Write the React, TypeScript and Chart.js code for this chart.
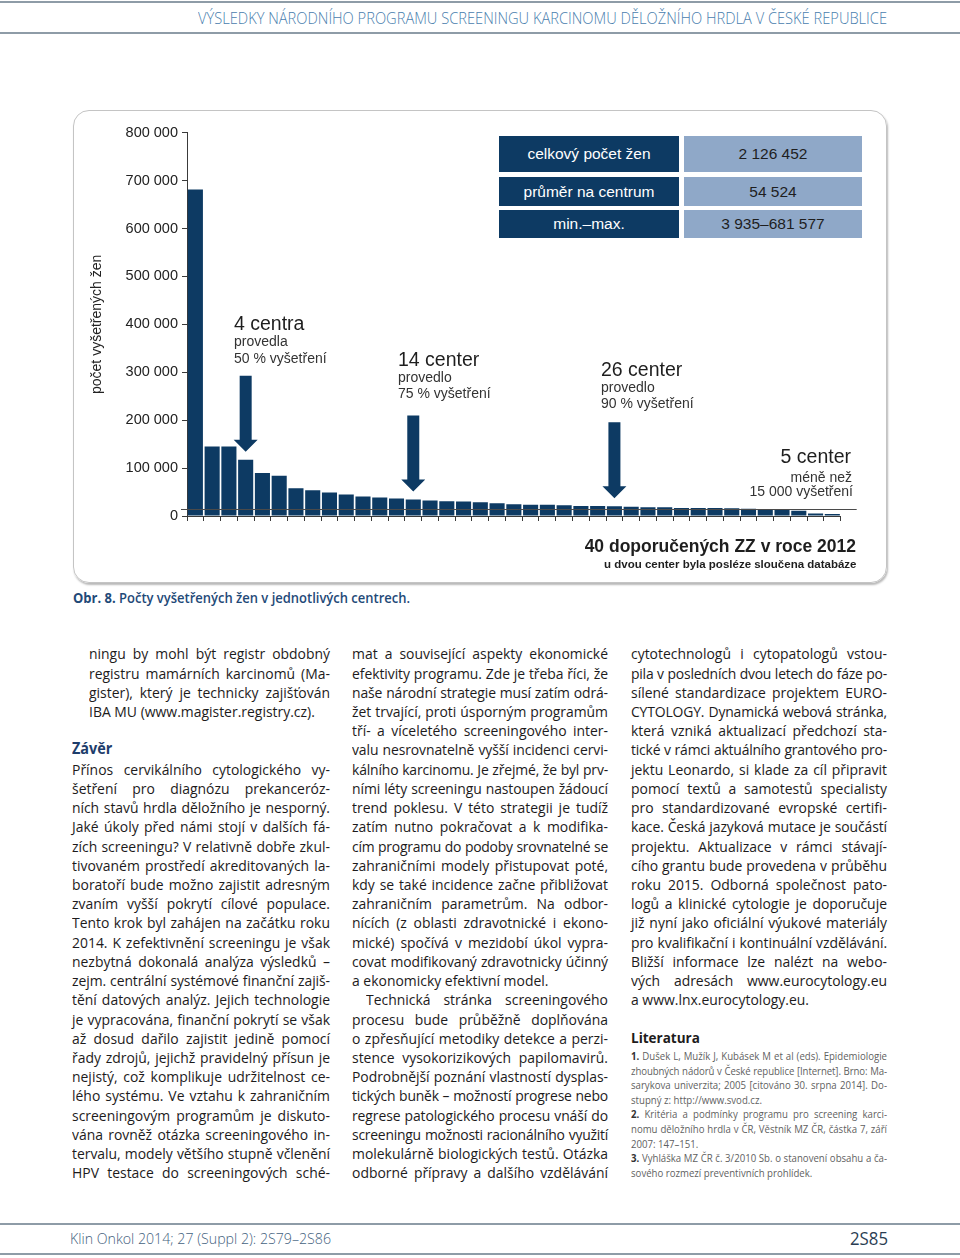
import React, { useEffect, useRef } from 'react';
import { Chart, registerables } from 'chart.js';

Chart.register(...registerables);

// ---------------- chart data ----------------
const centerLabels = ['1', '2', '3', '4', '5', '6', '7', '8', '9', '10', '11', '12', '13', '14', '15', '16', '17', '18', '19', '20',
  '21', '22', '23', '24', '25', '26', '27', '28', '29', '30', '31', '32', '33', '34', '35', '36', '37', '38', '39'];
const examinedWomen = [681577, 145300, 145300, 117400, 89500, 83900, 58100, 53900, 48800, 44700,
  40500, 38400, 36300, 34200, 32100, 30800, 30500, 28700, 26600, 24500,
  23700, 23700, 22400, 21000, 21000, 20300, 19500, 18200, 18200, 16800,
  16800, 16500, 16200, 15300, 14700, 12600, 11100, 5000, 3935];
const yTickValues = [0, 100000, 200000, 300000, 400000, 500000, 600000, 700000, 800000];
const arrowBars = [3, 13, 25];
const smallCenterLimit = 15000;
const summaryLabels = ['celkový počet žen', 'průměr na centrum', 'min.–max.'];
const summaryValues = ['2 126 452', '54 524', '3 935–681 577'];
const yAxisTitle = 'počet vyšetřených žen';

// ---------------- page text ----------------
const headerText = 'VÝSLEDKY NÁRODNÍHO PROGRAMU SCREENINGU KARCINOMU DĚLOŽNÍHO HRDLA V ČESKÉ REPUBLICE';
const footerText = 'Klin Onkol 2014; 27 (Suppl 2): 2S79–2S86';
const pageNumber = '2S85';
const captionBold = 'Obr. 8.';
const captionText = ' Počty vyšetřených žen v jednotlivých centrech.';

const col1Intro = [
  'ningu by mohl být registr obdobný',
  'registru mamárních karcinomů (Ma-',
  'gister), který je technicky zajišťován',
  'IBA MU (www.magister.registry.cz).',
];
const col1Body = [
  'Přínos cervikálního cytologického vy-',
  'šetření pro diagnózu prekanceróz-',
  'ních  stavů hrdla děložního je nesporný.',
  'Jaké úkoly před námi stojí v dalších fá-',
  'zích screeningu? V relativně dobře zkul-',
  'tivovaném prostředí akreditovaných la-',
  'boratoří bude možno zajistit adresným',
  'zvaním vyšší pokrytí cílové populace.',
  'Tento krok byl zahájen na začátku roku',
  '2014. K zefektivnění screeningu je však',
  'nezbytná dokonalá analýza výsledků –',
  'zejm. centrální systémové finanční zajiš-',
  'tění datových analýz. Jejich technologie',
  'je vypracována, finanční pokrytí se však',
  'až dosud dařilo zajistit jedině pomocí',
  'řady zdrojů, jejichž pravidelný přísun je',
  'nejistý, což komplikuje udržitelnost ce-',
  'lého systému. Ve vztahu k zahraničním',
  'screeningovým programům je diskuto-',
  'vána rovněž otázka screeningového in-',
  'tervalu, modely většího stupně včlenění',
  'HPV testace do screeningových sché-',
];
const col2Body = [
  'mat a související aspekty ekonomické',
  'efektivity programu. Zde je třeba říci, že',
  'naše národní strategie musí zatím odrá-',
  'žet trvající, proti úsporným programům',
  'tří- a víceletého screeningového inter-',
  'valu nesrovnatelně vyšší incidenci cervi-',
  'kálního karcinomu. Je zřejmé, že byl prv-',
  'ními léty screeningu nastoupen žádoucí',
  'trend poklesu. V této strategii je tudíž',
  'zatím nutno pokračovat a k modifika-',
  'cím programu do podoby srovnatelné se',
  'zahraničními modely přistupovat poté,',
  'kdy se také incidence začne přibližovat',
  'zahraničním parametrům. Na odbor-',
  'nících (z oblasti zdravotnické i ekono-',
  'mické) spočívá v mezidobí úkol vypra-',
  'covat modifikovaný zdravotnicky účinný',
  'a ekonomicky efektivní model.',
];
const col2Tech = [
  'Technická stránka screeningového',
  'procesu bude průběžně doplňována',
  'o zpřesňující metodiky detekce a perzi-',
  'stence vysokorizikových papilomavirů.',
  'Podrobnější poznání vlastností dysplas-',
  'tických buněk – možností progrese nebo',
  'regrese patologického procesu vnáší do',
  'screeningu možnosti racionálního využití',
  'molekulárně biologických testů. Otázka',
  'odborné přípravy a dalšího vzdělávání',
];
const col3Body = [
  'cytotechnologů i cytopatologů vstou-',
  'pila v posledních dvou letech do fáze po-',
  'sílené standardizace projektem EURO-',
  'CYTOLOGY. Dynamická webová stránka,',
  'která vzniká aktualizací předchozí sta-',
  'tické v rámci aktuálního grantového pro-',
  'jektu Leonardo, si klade za cíl připravit',
  'pomocí textů a samotestů specialisty',
  'pro standardizované evropské certifi-',
  'kace. Česká jazyková mutace je součástí',
  'projektu. Aktualizace v rámci stávají-',
  'cího grantu bude provedena v průběhu',
  'roku 2015. Odborná společnost pato-',
  'logů a klinické cytologie je doporučuje',
  'již nyní jako oficiální výukové materiály',
  'pro kvalifikační i kontinuální vzdělávání.',
  'Bližší informace lze nalézt na webo-',
  'vých adresách www.eurocytology.eu',
  'a www.lnx.eurocytology.eu.',
];
const refNumbers = ['1.', '2.', '3.'];
const refLines = [
  ['Dušek L, Mužík J, Kubásek M et al (eds). Epidemiologie', 'zhoubných nádorů v České republice [Internet]. Brno: Ma-', 'sarykova univerzita; 2005 [citováno 30. srpna 2014]. Do-', 'stupný z: http://www.svod.cz.'],
  ['Kritéria a podmínky programu pro screening karci-', 'nomu děložního hrdla v ČR, Věstník MZ ČR, částka 7, září', '2007: 147–151.'],
  ['Vyhláška MZ ČR č. 3/2010 Sb. o stanovení obsahu a ča-', 'sového rozmezí preventivních prohlídek.'],
];

// ---------------- styles ----------------
const NAVY = '#0d3a63';
const LIGHT = '#8fa8c8';
const AXIS = '#3a3a3a';
const TEXT = '#1d1b1c';
const SANS = '"Liberation Sans", Arial, sans-serif';
const BODY_SIZE = 15;
const BODY_FONT = `${BODY_SIZE}px "Open Sans"`;
const LH = 19.22;
const REF_SIZE = 11;
const REF_FONT = `${REF_SIZE}px "Open Sans"`;
const REF_LH = 14.6;

let measureCtx: CanvasRenderingContext2D | null = null;
function measure(text: string, font: string): number {
  if (!measureCtx) measureCtx = document.createElement('canvas').getContext('2d');
  measureCtx!.font = font;
  return measureCtx!.measureText(text).width;
}

function openTop(cy: number, size: number, lh: number) {
  const baseline = cy + 0.32 * size;
  return baseline - (lh - 1.362 * size) / 2 - 1.069 * size;
}

function fmt(v: number) {
  return String(v).replace(/\B(?=(\d{3})+(?!\d))/g, ' ');
}

const overlayPlugin = {
  id: 'overlay',
  afterDatasetsDraw(chart: any) {
    const { ctx, scales, chartArea } = chart;
    const x = scales.x;
    const y = scales.y;
    ctx.save();
    const ly = Math.round(y.getPixelForValue(smallCenterLimit)) + 0.5;
    ctx.strokeStyle = '#4a4a4a';
    ctx.lineWidth = 1;
    ctx.beginPath();
    ctx.moveTo(chartArea.left - 6, ly);
    ctx.lineTo(chartArea.right + 16, ly);
    ctx.stroke();
    ctx.fillStyle = NAVY;
    arrowBars.forEach((i) => {
      const cx = x.getPixelForValue(i);
      const tip = y.getPixelForValue(examinedWomen[i]) - 8;
      const top = tip - 76;
      const headH = 12;
      ctx.beginPath();
      ctx.moveTo(cx - 6, top);
      ctx.lineTo(cx + 6, top);
      ctx.lineTo(cx + 6, tip - headH);
      ctx.lineTo(cx + 12, tip - headH);
      ctx.lineTo(cx, tip);
      ctx.lineTo(cx - 12, tip - headH);
      ctx.lineTo(cx - 6, tip - headH);
      ctx.closePath();
      ctx.fill();
    });
    ctx.restore();
  },
};

function ScreeningChart() {
  const ref = useRef<HTMLCanvasElement>(null);
  useEffect(() => {
    const chart = new Chart(ref.current!, {
      type: 'bar',
      data: {
        labels: centerLabels,
        datasets: [{
          data: examinedWomen,
          backgroundColor: NAVY,
          borderWidth: 0,
          barPercentage: 0.9,
          categoryPercentage: 1,
        }],
      },
      options: {
        animation: false,
        responsive: false,
        maintainAspectRatio: false,
        layout: { padding: { left: 0, top: 22.7, right: 46.3, bottom: 57 } },
        plugins: { legend: { display: false }, tooltip: { enabled: false } },
        scales: {
          x: {
            type: 'category',
            offset: true,
            grid: { offset: true, drawOnChartArea: false, drawTicks: true, tickLength: 5, color: AXIS },
            border: { display: true, color: AXIS, width: 1 },
            ticks: { display: false, autoSkip: false },
            afterFit: (s: any) => { s.height = 10; },
          },
          y: {
            min: 0,
            max: 800000,
            afterBuildTicks: (s: any) => { s.ticks = yTickValues.map((v) => ({ value: v })); },
            ticks: {
              callback: (v: any) => fmt(Number(v)),
              font: { family: SANS, size: 14.5 },
              color: '#222',
              padding: 4,
            },
            grid: { drawOnChartArea: false, drawTicks: true, tickLength: 5, color: AXIS },
            border: { display: true, color: AXIS, width: 1 },
            title: {
              display: true,
              text: yAxisTitle,
              font: { family: SANS, size: 14 },
              color: '#222',
              padding: { top: 16, bottom: 0 },
            },
            afterFit: (s: any) => { s.width = 114; },
          },
        },
      } as any,
      plugins: [overlayPlugin],
    });
    return () => chart.destroy();
  }, []);
  return (
    <canvas ref={ref} width={814} height={473}
      style={{ position: 'absolute', left: 73, top: 110, width: 814, height: 473 }} />
  );
}

function Label(props: { text: string; x: number; baseline: number; size: number; weight?: number; color?: string; align?: 'left' | 'right' }) {
  const { text, x, baseline, size, weight = 400, color = '#1e1e1e', align = 'left' } = props;
  const lh = size * 1.2;
  const top = baseline - (lh - 1.117 * size) / 2 - 0.905 * size;
  const style: any = {
    position: 'absolute', top, font: `${weight} ${size}px ${SANS}`, lineHeight: lh + 'px', color, whiteSpace: 'nowrap',
  };
  if (align === 'right') style.right = 960 - x; else style.left = x;
  return <div style={style}>{text}</div>;
}

function FitText(props: { text: string; x: number; cy: number; width: number; size: number; weight?: number; color: string }) {
  const { text, x, cy, width, size, weight = 400, color } = props;
  const font = `${weight} ${size}px "Open Sans"`;
  const s = width / measure(text, font);
  const lh = size * 1.3;
  return (
    <div style={{ position: 'absolute', left: x, top: openTop(cy, size, lh), font, lineHeight: lh + 'px', color, whiteSpace: 'nowrap', transform: `scaleX(${s})`, transformOrigin: '0 0' }}>{text}</div>
  );
}

type LineSpec = { text: string; x: number; cy: number; w: number; justify: boolean; prefix?: string };

function buildBodyLines(): LineSpec[] {
  const out: LineSpec[] = [];
  const y0 = 655;
  col1Intro.forEach((t, i) => out.push({ text: t, x: 89, cy: y0 + i * LH, w: 241, justify: i < col1Intro.length - 1 }));
  col1Body.forEach((t, i) => out.push({ text: t, x: 72, cy: y0 + (6 + i) * LH, w: 258, justify: true }));
  col2Body.forEach((t, i) => out.push({ text: t, x: 352, cy: y0 + i * LH, w: 256, justify: i < col2Body.length - 1 }));
  col2Tech.forEach((t, i) => out.push({ text: t, x: i === 0 ? 366 : 352, cy: y0 + (col2Body.length + i) * LH, w: i === 0 ? 242 : 256, justify: true }));
  col3Body.forEach((t, i) => out.push({ text: t, x: 631, cy: y0 + i * LH, w: 256, justify: i < col3Body.length - 1 }));
  return out;
}

function buildRefLines(): LineSpec[] {
  const out: LineSpec[] = [];
  let k = 0;
  refLines.forEach((lines, r) => {
    lines.forEach((t, i) => {
      out.push({ text: t, prefix: i === 0 ? refNumbers[r] : undefined, x: 631, cy: 1057 + k * REF_LH, w: 256, justify: i < lines.length - 1 });
      k++;
    });
  });
  return out;
}

// Text set in justified lines: one horizontal scale for the block (a narrower face),
// lines that still do not fit get a slightly tighter letter spacing.
function TextLines(props: { lines: LineSpec[]; font: string; size: number; lh: number; color: string; quantile: number }) {
  const { lines, font, size, lh, color, quantile } = props;
  const full = (l: LineSpec) => (l.prefix ? l.prefix + ' ' : '') + l.text;
  const ratios = lines.filter((l) => l.justify).map((l) => (l.w - 2) / measure(full(l), font)).sort((a, b) => a - b);
  const scale = Math.min(1, ratios[Math.floor(ratios.length * quantile)]);
  return (
    <>
      {lines.map((l, i) => {
        const t = full(l);
        const nat = measure(t, font);
        const avail = (l.w - 2) / scale;
        const ls = nat > avail ? (avail - nat) / t.length : 0;
        return (
          <div key={i} style={{
            position: 'absolute', left: l.x, top: openTop(l.cy, size, lh), width: l.w / scale, height: lh,
            font, lineHeight: lh + 'px', color, letterSpacing: ls ? ls + 'px' : undefined,
            textAlign: l.justify ? 'justify' : 'left', textAlignLast: l.justify ? 'justify' : 'left',
            transform: `scaleX(${scale})`, transformOrigin: '0 0',
          } as any}>
            {l.prefix ? <span style={{ fontWeight: 700, color: '#333' }}>{l.prefix}</span> : null}
            {l.prefix ? ' ' : ''}
            {l.text}
          </div>
        );
      })}
    </>
  );
}

function SummaryTable() {
  const rows = [[136, 172], [177, 206], [210, 238]];
  return (
    <>
      {rows.map(([t, b], i) => (
        <React.Fragment key={i}>
          <div style={{ position: 'absolute', left: 499, top: t, width: 180, height: b - t, background: NAVY, color: '#fff', display: 'flex', alignItems: 'center', justifyContent: 'center', font: `15.5px ${SANS}` }}>{summaryLabels[i]}</div>
          <div style={{ position: 'absolute', left: 684, top: t, width: 178, height: b - t, background: LIGHT, color: '#1e1e1e', display: 'flex', alignItems: 'center', justifyContent: 'center', font: `15.5px ${SANS}` }}>{summaryValues[i]}</div>
        </React.Fragment>
      ))}
    </>
  );
}

function Rule({ y }: { y: number }) {
  return <div style={{ position: 'absolute', left: 0, top: y, width: 960, height: 2, background: '#8e9ca7' }} />;
}

export default function App() {
  const body = buildBodyLines();
  const refs = buildRefLines();
  const capFontB = `700 14px "Open Sans"`;
  const capFont = `600 14px "Open Sans"`;
  const capScale = 337 / (measure(captionBold, capFontB) + measure(captionText, capFont));
  return (
    <div style={{ position: 'absolute', left: 0, top: 0, width: 960, height: 1258, background: '#fff', overflow: 'hidden' }}>
      <Rule y={1} />
      <FitText text={headerText} x={198} cy={19.5} width={689} size={16} weight={300} color="#4a80ae" />
      <Rule y={32} />

      <div style={{ position: 'absolute', left: 73, top: 110, width: 814, height: 473, boxSizing: 'border-box', border: '1px solid #c4c4c4', borderRadius: 16, boxShadow: '1px 2px 2px rgba(0,0,0,0.28)' }} />
      <ScreeningChart />
      <SummaryTable />

      <Label text="4 centra" x={234} baseline={330.7} size={19.5} />
      <Label text="provedla" x={234} baseline={346.5} size={14} color="#333" />
      <Label text="50 % vyšetření" x={234} baseline={363} size={14} color="#333" />
      <Label text="14 center" x={398} baseline={366} size={19.5} />
      <Label text="provedlo" x={398} baseline={382} size={14} color="#333" />
      <Label text="75 % vyšetření" x={398} baseline={398.5} size={14} color="#333" />
      <Label text="26 center" x={601} baseline={376} size={19.5} />
      <Label text="provedlo" x={601} baseline={392} size={14} color="#333" />
      <Label text="90 % vyšetření" x={601} baseline={408.5} size={14} color="#333" />
      <Label text="5 center" x={851} baseline={463.3} size={19.5} align="right" />
      <Label text="méně než" x={852} baseline={482} size={14} color="#333" align="right" />
      <Label text="15 000 vyšetření" x={853} baseline={496.5} size={14} color="#333" align="right" />
      <Label text="40 doporučených ZZ v roce 2012" x={856} baseline={553} size={17.5} weight={700} align="right" />
      <Label text="u dvou center byla posléze sloučena databáze" x={856.5} baseline={568.5} size={11.5} weight={700} align="right" />

      <div style={{ position: 'absolute', left: 73, top: openTop(598, 14, 18), lineHeight: '18px', color: '#1f4a78', whiteSpace: 'nowrap', transform: `scaleX(${capScale})`, transformOrigin: '0 0' }}>
        <span style={{ font: capFontB }}>{captionBold}</span><span style={{ font: capFont }}>{captionText}</span>
      </div>

      <TextLines lines={body} font={BODY_FONT} size={BODY_SIZE} lh={LH} color={TEXT} quantile={0.3} />
      <div style={{ position: 'absolute', left: 72, top: openTop(750, 16, LH), font: `700 16px "Open Sans"`, lineHeight: LH + 'px', color: '#1d3d6b', transform: 'scaleX(0.9)', transformOrigin: '0 0' }}>Závěr</div>
      <div style={{ position: 'absolute', left: 631, top: openTop(1039, 15, LH), font: `700 15px "Open Sans"`, lineHeight: LH + 'px', color: TEXT, transform: 'scaleX(0.9)', transformOrigin: '0 0' }}>Literatura</div>
      <TextLines lines={refs} font={REF_FONT} size={REF_SIZE} lh={REF_LH} color="#5f5f5f" quantile={0.3} />

      <Rule y={1223} />
      <FitText text={footerText} x={70} cy={1240} width={261} size={15} weight={300} color="#44627e" />
      <FitText text={pageNumber} x={850} cy={1240} width={38} size={18} weight={400} color="#2a3d52" />
      <Rule y={1253} />
    </div>
  );
}
